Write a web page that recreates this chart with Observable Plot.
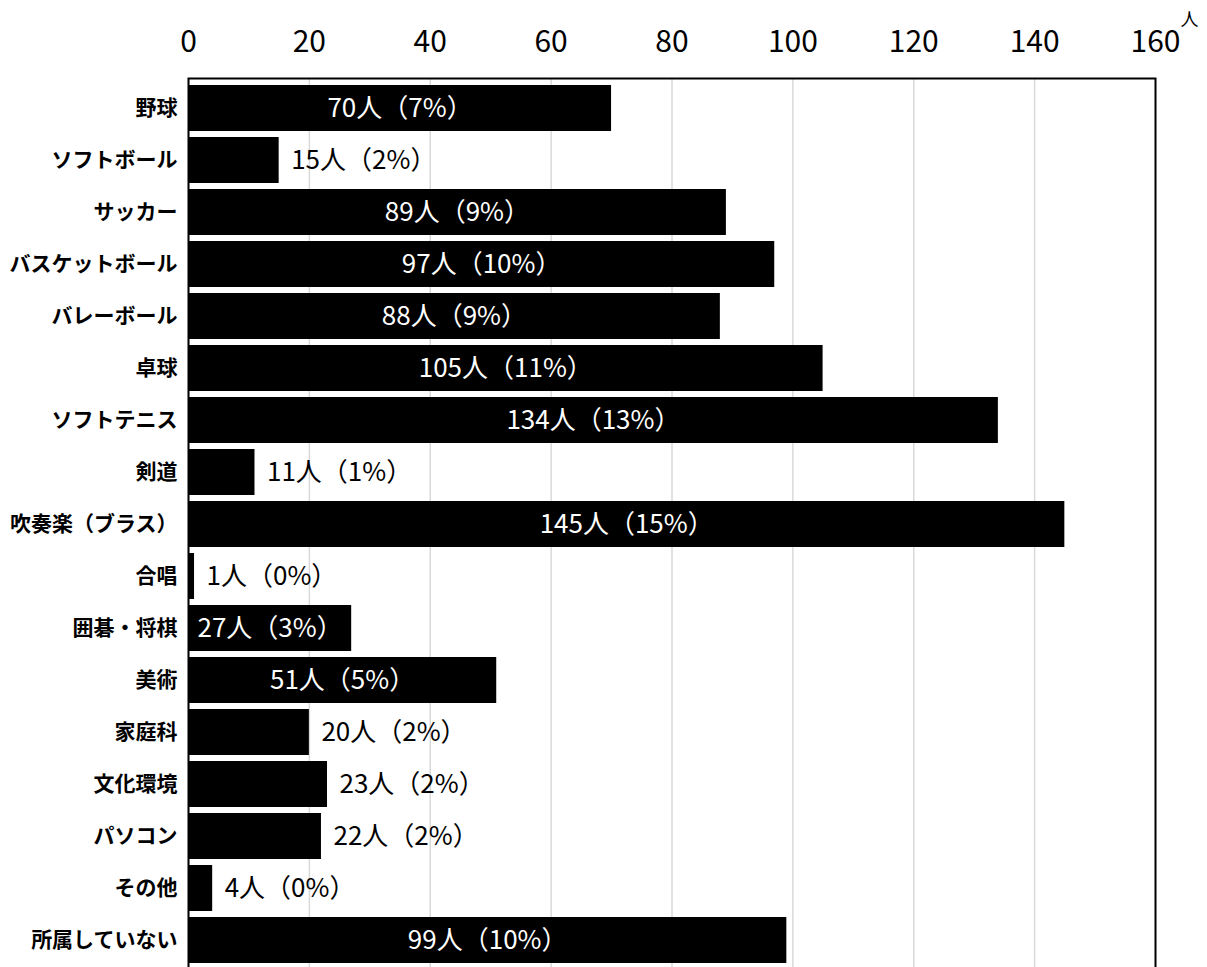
<!DOCTYPE html>
<html>
<head>
<meta charset="utf-8">
<script src="https://cdn.jsdelivr.net/npm/d3@7"></script>
<script src="https://cdn.jsdelivr.net/npm/@observablehq/plot@0.6"></script>
<style>
  html, body { margin: 0; padding: 0; background: #fff; overflow: hidden; }
  #chart { width: 1207px; height: 967px; overflow: hidden; }
</style>
</head>
<body>
<div id="chart"></div>
<script>
const categories = ["野球","ソフトボール","サッカー","バスケットボール","バレーボール","卓球","ソフトテニス","剣道","吹奏楽（ブラス）","合唱","囲碁・将棋","美術","家庭科","文化環境","パソコン","その他","所属していない"];
const counts = [70,15,89,97,88,105,134,11,145,1,27,51,20,23,22,4,99];
const percents = [7,2,9,10,9,11,13,1,15,0,3,5,2,2,2,0,10];
const xTicks = [0,20,40,60,80,100,120,140,160];
const unitLabel = "人";
const insideMin = 25;

const data = categories.map((c, i) => ({
  category: c, count: counts[i], pct: percents[i],
  label: `${counts[i]}人（${percents[i]}%）`
}));
const inside = data.filter(d => d.count >= insideMin);
const outside = data.filter(d => d.count < insideMin);

const font = "'Noto Sans CJK JP', 'Noto Sans', sans-serif";

const chart = Plot.plot({
  width: 1207,
  height: 970,
  marginLeft: 188,
  marginRight: 52,
  marginTop: 78,
  marginBottom: 0,
  style: { fontFamily: font, background: "#fff", color: "#000" },
  x: { domain: [0, 160], ticks: xTicks, label: null },
  y: { domain: categories, paddingInner: 0.12, paddingOuter: 0.055, label: null },
  marks: [
    Plot.gridX(xTicks, { stroke: "#d9d9d9", strokeOpacity: 1, strokeWidth: 1.5 }),
    Plot.barX(data, { x: "count", y: "category", fill: "#000" }),
    Plot.text(inside, {
      x: d => d.count / 2, y: "category", text: "label",
      fill: "#fff", fontSize: 26, textAnchor: "middle"
    }),
    Plot.text(outside, {
      x: "count", y: "category", text: "label",
      fill: "#000", fontSize: 26, textAnchor: "start", dx: 12
    }),
    Plot.axisX({ anchor: "top", ticks: xTicks, tickSize: 0, tickPadding: 27, fontSize: 30, label: null }),
    Plot.axisY({ tickSize: 0, tickPadding: 11, fontSize: 21, fontWeight: "bold", label: null }),
    Plot.frame({ stroke: "#000", strokeWidth: 2 }),
    Plot.text([unitLabel], { frameAnchor: "top-right", text: d => d, dx: 43, dy: -65, fontSize: 18 })
  ]
});
document.getElementById("chart").appendChild(chart);
</script>
</body>
</html>
